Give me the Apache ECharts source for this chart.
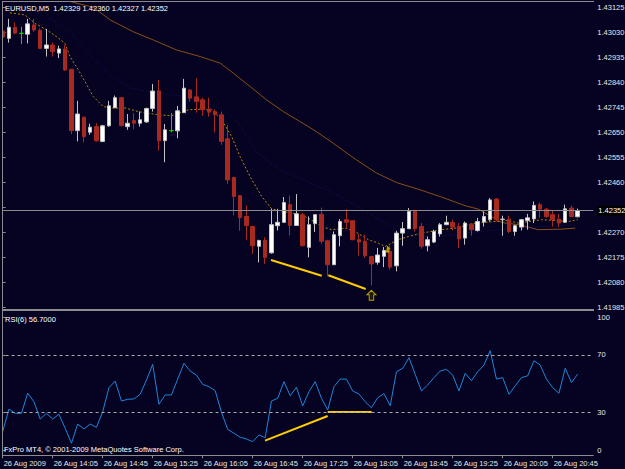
<!DOCTYPE html>
<html>
<head>
<meta charset="utf-8">
<script src="https://cdn.jsdelivr.net/npm/echarts@6/dist/echarts.min.js"></script>
<style>
html,body{margin:0;padding:0;background:#050321;}
#chart{width:625px;height:469px;}
</style>
</head>
<body>
<div id="chart"></div>
<script>
// EURUSD M5 bars, 26 Aug 2009 13:25 .. 21:05
const tickLabels = ['26 Aug 2009','26 Aug 14:05','26 Aug 14:45','26 Aug 15:25','26 Aug 16:05','26 Aug 16:45',
  '26 Aug 17:25','26 Aug 18:05','26 Aug 18:45','26 Aug 19:25','26 Aug 20:05','26 Aug 20:45'];

const opens = [1.43034,1.43006,1.43048,1.43025,1.43022,1.43057,1.43037,1.42968,1.42981,1.42950,
  1.42966,1.42889,1.42656,1.42707,1.42650,1.42671,1.42615,1.42674,1.42743,1.42781,
  1.42671,1.42694,1.42684,1.42689,1.42740,1.42807,1.42618,1.42656,1.42655,1.42724,
  1.42810,1.42784,1.42773,1.42738,1.42728,1.42716,1.42625,1.42478,1.42409,1.42330,
  1.42292,1.42217,1.42239,1.42192,1.42295,1.42308,1.42375,1.42296,1.42337,1.42213,
  1.42303,1.42339,1.42238,1.42147,1.42257,1.42318,1.42314,1.42242,1.42236,1.42178,
  1.42156,1.42179,1.42198,1.42143,1.42267,1.42284,1.42352,1.42292,1.42219,1.42233,
  1.42264,1.42299,1.42308,1.42292,1.42248,1.42301,1.42277,1.42309,1.42318,1.42396,
  1.42319,1.42320,1.42273,1.42290,1.42315,1.42321,1.42375,1.42358,1.42337,1.42320,
  1.42308,1.42362,1.42329];
const closes = [1.43011,1.43048,1.43026,1.43025,1.43061,1.43038,1.42968,1.42981,1.42956,1.42966,
  1.42886,1.42656,1.42719,1.42633,1.42669,1.42617,1.42674,1.42750,1.42781,1.42675,
  1.42684,1.42684,1.42697,1.42740,1.42806,1.42617,1.42659,1.42656,1.42731,1.42817,
  1.42779,1.42766,1.42735,1.42726,1.42716,1.42615,1.42469,1.42406,1.42326,1.42296,
  1.42219,1.42239,1.42175,1.42299,1.42308,1.42383,1.42296,1.42340,1.42219,1.42299,
  1.42337,1.42236,1.42147,1.42261,1.42311,1.42308,1.42242,1.42233,1.42181,1.42150,
  1.42184,1.42201,1.42138,1.42267,1.42284,1.42349,1.42284,1.42217,1.42242,1.42273,
  1.42299,1.42308,1.42290,1.42245,1.42305,1.42280,1.42311,1.42330,1.42393,1.42318,
  1.42320,1.42273,1.42295,1.42318,1.42325,1.42372,1.42358,1.42330,1.42318,1.42305,
  1.42359,1.42330,1.42352];
const lows = [1.42985,1.42990,1.43022,1.42984,1.42987,1.43031,1.42966,1.42937,1.42937,1.42931,
  1.42882,1.42643,1.42615,1.42611,1.42640,1.42615,1.42612,1.42671,1.42741,1.42671,
  1.42659,1.42661,1.42671,1.42686,1.42728,1.42580,1.42536,1.42649,1.42627,1.42724,
  1.42766,1.42724,1.42712,1.42709,1.42649,1.42602,1.42454,1.42334,1.42276,1.42242,
  1.42188,1.42156,1.42150,1.42189,1.42277,1.42305,1.42258,1.42296,1.42217,1.42175,
  1.42271,1.42226,1.42103,1.42147,1.42217,1.42283,1.42240,1.42181,1.42173,1.42069,
  1.42147,1.42138,1.42128,1.42122,1.42219,1.42282,1.42273,1.42208,1.42198,1.42229,
  1.42254,1.42299,1.42277,1.42211,1.42223,1.42257,1.42273,1.42292,1.42311,1.42311,
  1.42257,1.42267,1.42257,1.42277,1.42280,1.42305,1.42325,1.42325,1.42292,1.42290,
  1.42305,1.42328,1.42327];
const highs = [1.43072,1.43080,1.43067,1.43050,1.43080,1.43080,1.43044,1.43042,1.42990,1.42978,
  1.42981,1.42890,1.42769,1.42709,1.42682,1.42684,1.42678,1.42769,1.42789,1.42784,
  1.42719,1.42722,1.42728,1.42743,1.42833,1.42848,1.42681,1.42722,1.42750,1.42852,
  1.42813,1.42855,1.42781,1.42781,1.42737,1.42728,1.42678,1.42481,1.42412,1.42372,
  1.42295,1.42242,1.42251,1.42359,1.42359,1.42404,1.42409,1.42415,1.42343,1.42330,
  1.42337,1.42364,1.42242,1.42273,1.42320,1.42358,1.42316,1.42264,1.42261,1.42181,
  1.42211,1.42214,1.42219,1.42276,1.42309,1.42362,1.42356,1.42305,1.42254,1.42280,
  1.42305,1.42333,1.42318,1.42305,1.42311,1.42305,1.42325,1.42349,1.42400,1.42400,
  1.42333,1.42333,1.42299,1.42321,1.42340,1.42387,1.42383,1.42362,1.42352,1.42340,
  1.42375,1.42371,1.42360];

// moving averages (bar position, price)
const fastMaPos = [1.17,3.57,5.17,7.04,8.64,9.97,10.77,12.1,13.17,14.5,16.1,17.97,19.57,21.7,24.9,27.04,
  29.7,31.84,33.44,35.04,36.64,37.97,39.57,41.44,43.04,44.9,47.57,48.9,51.04,52.64,54.77,56.37,
  58.5,60.1,61.17,63.3,64.9,67.04,70.24,72.37,75.57,78.77,80.9,82.5,86.24,90.5,92];
const fastMaVal = [1.43103,1.43095,1.43063,1.43038,1.43012,1.42987,1.42937,1.42886,1.42842,1.42785,1.42747,
  1.42741,1.42742,1.42728,1.42716,1.42712,1.42735,1.42737,1.42735,1.42697,1.42633,1.42558,1.42482,
  1.42406,1.42359,1.42349,1.42337,1.42324,1.42292,1.42280,1.42286,1.42273,1.42242,1.42229,1.42216,
  1.42242,1.42254,1.42267,1.42280,1.42286,1.42305,1.42311,1.42315,1.42305,1.42318,1.42311,1.42318];
const midMaPos = [7.57,10.77,13.97,17.17,20.37,23.57,27.57,31.57,34.77,37.97,40.69,44.37,49.17,52.85,
  56.69,60.37,63.57,68.37,74.77,82.77,91.89];
const midMaVal = [1.43083,1.43030,1.42943,1.42867,1.42818,1.42803,1.42791,1.42773,1.42742,1.42678,1.42572,
  1.42507,1.42458,1.42420,1.42368,1.42318,1.42272,1.42250,1.42269,1.42288,1.42299];
const slowMaPos = [10.9,14.5,17.2,20.9,24.1,27.8,31.6,34.8,36.9,39.6,42.2,44.9,47.6,50.2,52.9,56.4,
  59.8,63.0,66.8,70.2,74.0,76.1,78.2,79.8,82.5,85.7,89.4,91.6];
const slowMaVal = [1.43145,1.43124,1.43076,1.43031,1.43000,1.42962,1.42937,1.42912,1.42874,1.42823,1.42773,
  1.42728,1.42690,1.42652,1.42608,1.42548,1.42495,1.42459,1.42431,1.42404,1.42371,1.42358,1.42330,
  1.42307,1.42299,1.42280,1.42282,1.42286];

// hand drawn trend lines and marks
const priceTrendA = [[42.93,1.42165],[51.04,1.42105]];
const priceTrendB = [[52.1,1.42107],[58.08,1.42055]];
const arrowMark = [[59,1.42031]];
const orderMark = [[61.7,1.42207]];

const rsiValues = [16.5,32.3,29.3,29.3,43.3,37.4,25.3,29.3,25.3,28.6,
  18.8,8.4,21.8,18.4,21.8,19.5,30.4,47.2,51.8,37.9,
  39.1,39.3,42.6,52.5,63.5,35.6,42.1,42.1,53.2,64.2,
  58.8,56.0,49.5,47.9,45.1,30.0,18.1,15.4,12.6,11.4,
  9.5,14.2,12.3,37.9,39.8,51.4,41.6,47.5,34.4,44.4,
  51.4,39.8,31.6,47.9,53.2,53.2,44.9,42.8,37.4,33.2,
  40.2,43.0,34.6,58.3,60.7,68.1,56.5,44.9,49.1,54.2,
  58.8,60.0,56.0,44.9,57.2,52.1,58.3,63.0,73.0,53.2,
  54.2,42.6,48.4,54.2,55.5,66.0,63.0,53.2,47.2,43.3,
  60.7,50.7,56.7];
const rsiTrendA = [[41.97,10.2],[52.0,27.4]];
const rsiTrendB = [[52.0,30.3],[59.04,30.3]];
const rsiLevels = [30, 70];

// 1.42365 sits under the bid label, so only its tick is drawn
const priceTicks = [1.41985,1.42080,1.42175,1.42270,1.42365,1.42460,1.42555,1.42650,1.42745,1.42840,1.42935,1.43030,1.43125];
const priceLabels = [1.41985,1.42080,1.42175,1.42270,1.42460,1.42555,1.42650,1.42745,1.42840,1.42935,1.43030,1.43125];
const rsiTickPos = [3.5, 30, 70, 96.5];
const rsiTickText = ['0', '30', '70', '100'];
const bidPrice = 1.42352;

const FONT = '"Liberation Sans", Arial, sans-serif';
const BG = '#050321';
const FRAME = '#8c8c8c';
const TXT = '#e6e6e6';
const slots = 95;

let cats = [];
for (let i = 0; i < slots; i++) cats.push(i);

let candles = opens.map(function (o, i) {
  let item = {value: [o, closes[i], lows[i], highs[i]]};
  if (o === closes[i]) {
    item.itemStyle = {color: '#00e000', color0: '#00e000', borderColor: '#00e000', borderColor0: '#00e000'};
  }
  return item;
});
function pairs(xs, ys) { return xs.map(function (x, i) { return [x, ys[i]]; }); }

const chart = echarts.init(document.getElementById('chart'), null, {renderer: 'svg'});
chart.setOption({
  backgroundColor: BG,
  animation: false,
  grid: [
    {left: -0.425, width: 593.75, top: 2, height: 307, outerBoundsMode: 'none'},
    {left: -0.425, width: 593.75, top: 312, height: 143.3, outerBoundsMode: 'none'}
  ],
  xAxis: [
    {type: 'category', gridIndex: 0, data: cats, boundaryGap: true,
      axisLine: {show: false}, axisTick: {show: false}, axisLabel: {show: false}, splitLine: {show: false}},
    {type: 'category', gridIndex: 1, data: cats, boundaryGap: true,
      axisLine: {show: true, lineStyle: {color: FRAME, width: 1}},
      axisTick: {show: true, interval: 7, alignWithLabel: true, length: 3, lineStyle: {color: FRAME}},
      axisLabel: {interval: 7, align: 'left', margin: 4, color: TXT, fontSize: 7.5, fontFamily: FONT, padding: [0, 0, 0, 1],
        formatter: function (v, idx) { return tickLabels[idx / 8] || ''; }},
      splitLine: {show: false}},
    {type: 'value', gridIndex: 0, min: -0.5, max: slots - 0.5, show: false},
    {type: 'value', gridIndex: 1, min: -0.5, max: slots - 0.5, show: false}
  ],
  yAxis: [
    {type: 'value', gridIndex: 0, position: 'right', min: 1.41979, max: 1.43144, scale: true,
      splitLine: {show: false},
      axisLine: {show: true, lineStyle: {color: FRAME}},
      axisTick: {show: true, length: 3, customValues: priceTicks, lineStyle: {color: FRAME}},
      axisLabel: {customValues: priceLabels, margin: 4, color: TXT, fontSize: 7.5, fontFamily: FONT,
        formatter: function (v) { return v.toFixed(5); }}},
    {type: 'value', gridIndex: 1, position: 'right', min: 0, max: 100,
      splitLine: {show: false},
      axisLine: {show: true, lineStyle: {color: FRAME}},
      axisTick: {show: true, length: 3, customValues: rsiTickPos, lineStyle: {color: FRAME}},
      axisLabel: {customValues: rsiTickPos, margin: 4, color: TXT, fontSize: 7.5, fontFamily: FONT,
        formatter: function (v) { return rsiTickText[rsiTickPos.indexOf(v)]; }}}
  ],
  series: [
    {type: 'line', name: 'MA slow', xAxisIndex: 2, yAxisIndex: 0, data: pairs(slowMaPos, slowMaVal),
      showSymbol: false, clip: true, lineStyle: {color: '#8a4f16', width: 1}, z: 1,
      markLine: {silent: true, symbol: ['none', 'none'], animation: false, precision: 5,
        lineStyle: {color: '#8c8c8c', width: 1, type: 'solid'},
        label: {show: true, position: 'end', distance: 4, color: '#ffffff', backgroundColor: '#000000',
          padding: [1, 1], fontSize: 7.5, fontFamily: FONT, formatter: function () { return bidPrice.toFixed(5); }},
        data: [{yAxis: bidPrice}]}},
    {type: 'line', name: 'MA mid', xAxisIndex: 2, yAxisIndex: 0, data: pairs(midMaPos, midMaVal),
      showSymbol: false, clip: true, lineStyle: {color: '#16166a', width: 1, type: [1, 2]}, z: 1},
    {type: 'line', name: 'MA fast', xAxisIndex: 2, yAxisIndex: 0, data: pairs(fastMaPos, fastMaVal),
      showSymbol: false, clip: true, lineStyle: {color: '#b8860b', width: 1, type: [2, 2]}, z: 1},
    {type: 'candlestick', name: 'EURUSD', xAxisIndex: 0, yAxisIndex: 0, data: candles, barWidth: 4, z: 2,
      itemStyle: {color: '#ffffff', color0: '#a8291f', borderColor: '#c4c4c4', borderColor0: '#a8291f', borderWidth: 1}},
    {type: 'line', xAxisIndex: 2, yAxisIndex: 0, data: priceTrendA, showSymbol: false, z: 3,
      lineStyle: {color: '#ffcc00', width: 2}},
    {type: 'line', xAxisIndex: 2, yAxisIndex: 0, data: priceTrendB, showSymbol: false, z: 3,
      lineStyle: {color: '#ffcc00', width: 2}},
    {type: 'scatter', xAxisIndex: 2, yAxisIndex: 0, data: arrowMark, z: 3,
      symbol: 'path://M4,0 L8,4 L6,4 L6,9 L2,9 L2,4 L0,4 Z', symbolSize: [9, 10],
      itemStyle: {color: '#262200', borderColor: '#e6c400', borderWidth: 1}},
    {type: 'scatter', xAxisIndex: 2, yAxisIndex: 0, data: orderMark, z: 3,
      symbol: 'path://M0,9 L2,0 L7,5 L4,5 L5,9 Z', symbolSize: [5, 7],
      itemStyle: {color: '#e6c400'}},
    {type: 'line', name: 'RSI(6)', xAxisIndex: 1, yAxisIndex: 1, data: rsiValues, showSymbol: false, z: 2,
      lineStyle: {color: '#1e86dc', width: 1},
      markLine: {silent: true, symbol: ['none', 'none'], animation: false, label: {show: false},
        lineStyle: {color: '#a8a8a8', width: 1, type: [3, 3]},
        data: rsiLevels.map(function (v) { return {yAxis: v}; })}},
    {type: 'line', xAxisIndex: 3, yAxisIndex: 1, data: rsiTrendA, showSymbol: false, z: 3,
      lineStyle: {color: '#ffcc00', width: 2}},
    {type: 'line', xAxisIndex: 3, yAxisIndex: 1, data: rsiTrendB, showSymbol: false, z: 3,
      lineStyle: {color: '#ffcc00', width: 2}}
  ],
  graphic: [
    {type: 'rect', shape: {x: 0, y: 0, width: 2, height: 469}, style: {fill: BG}, z: 100},
    {type: 'line', shape: {x1: 2.5, y1: 1.5, x2: 2.5, y2: 455.5}, style: {stroke: FRAME, lineWidth: 1}, z: 101},
    {type: 'line', shape: {x1: 2, y1: 1.5, x2: 594, y2: 1.5}, style: {stroke: FRAME, lineWidth: 1}, z: 101},
    {type: 'line', shape: {x1: 2, y1: 310, x2: 594, y2: 310}, style: {stroke: FRAME, lineWidth: 2}, z: 101},
    {type: 'text', x: 5, y: 8, z: 102, style: {text: 'EURUSD,M5  1.42329 1.42360 1.42327 1.42352',
      fill: '#ffffff', font: '7.5px ' + FONT, verticalAlign: 'middle'}},
    {type: 'text', x: 5, y: 319, z: 102, style: {text: 'RSI(6) 56.7000',
      fill: '#ffffff', font: '7.5px ' + FONT, verticalAlign: 'middle'}},
    {type: 'text', x: 4, y: 449, z: 102, style: {text: 'FxPro MT4, \u00a9 2001-2009 MetaQuotes Software Corp.',
      fill: '#ffffff', font: '7.5px ' + FONT, verticalAlign: 'middle'}}
  ]
});
</script>
</body>
</html>
